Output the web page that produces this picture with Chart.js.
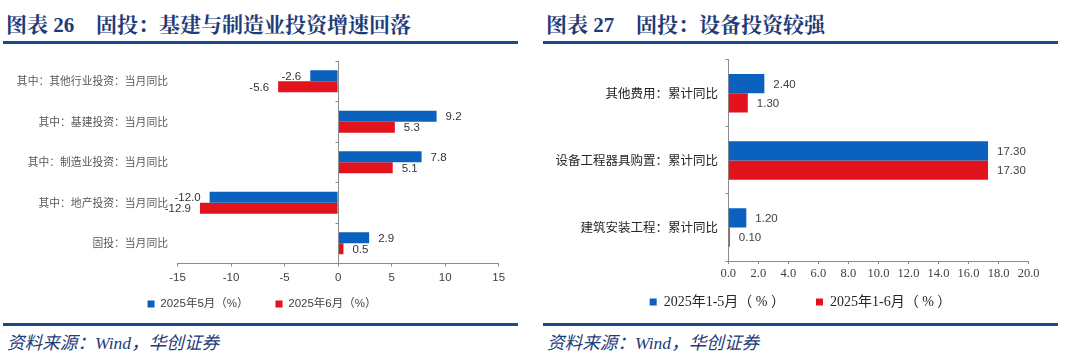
<!DOCTYPE html>
<html><head><meta charset="utf-8">
<script src="https://cdn.jsdelivr.net/npm/chart.js@4.4.1/dist/chart.umd.min.js"></script>
<style>
html,body{margin:0;padding:0;background:#fff;}
#wrap{position:relative;width:1080px;height:361px;overflow:hidden;background:#fff;}
.title{position:absolute;top:13px;height:24px;line-height:24px;font-family:"Liberation Serif","Noto Serif CJK SC","Noto Sans CJK SC",serif;font-weight:bold;font-size:21px;color:#1F3C78;white-space:nowrap;}
.rule{position:absolute;height:3px;background:#1B4A8A;}
.src{position:absolute;top:332px;height:22px;line-height:22px;font-family:"Liberation Serif","Noto Sans CJK SC",serif;font-style:italic;font-size:17.6px;color:#1F3C78;white-space:nowrap;}
canvas{position:absolute;}
</style></head>
<body>
<div id="wrap">
  <div class="title" style="left:6px">图表 26</div>
  <div class="title" style="left:96px">固投：基建与制造业投资增速回落</div>
  <div class="rule" style="left:3px;width:515px;top:41px"></div>
  <div class="title" style="left:546px">图表 27</div>
  <div class="title" style="left:636px">固投：设备投资较强</div>
  <div class="rule" style="left:543px;width:515px;top:41px"></div>
  <div class="rule" style="left:3px;width:515px;top:323px"></div>
  <div class="rule" style="left:543px;width:515px;top:323px"></div>
  <div class="src" style="left:7px">资料来源：Wind，华创证券</div>
  <div class="src" style="left:547px">资料来源：Wind，华创证券</div>
  <canvas id="c1" width="540" height="293" style="left:0;top:45px"></canvas>
  <canvas id="c2" width="540" height="293" style="left:540px;top:45px"></canvas>
</div>
<script>
// ---- Data ----
const leftCategories = ['其中：其他行业投资：当月同比', '其中：基建投资：当月同比', '其中：制造业投资：当月同比', '其中：地产投资：当月同比', '固投：当月同比'];
const leftMay = [-2.6, 9.2, 7.8, -12.0, 2.9];
const leftJun = [-5.6, 5.3, 5.1, -12.9, 0.5];
const leftSeriesNames = ['2025年5月（%）', '2025年6月（%）'];
const leftXTicks = [-15, -10, -5, 0, 5, 10, 15];

const rightCategories = ['其他费用：累计同比', '设备工程器具购置：累计同比', '建筑安装工程：累计同比'];
const rightJanMay = [2.40, 17.30, 1.20];
const rightJanJun = [1.30, 17.30, 0.10];
const rightSeriesNames = ['2025年1-5月（ % ）', '2025年1-6月（ % ）'];
const rightXTicks = [0, 2, 4, 6, 8, 10, 12, 14, 16, 18, 20];

const BLUE = '#0B61BE', RED = '#E3131D', AXIS = '#8C8C8C';
const SANS = '"Liberation Sans", Arial, "Noto Sans CJK SC", sans-serif';
const SERIF = '"Liberation Serif", "Noto Sans CJK SC", serif';

function labelPlugin(decimals, font, color) {
  return {
    id: 'valueLabels' + decimals,
    afterDatasetsDraw(chart) {
      const ctx = chart.ctx;
      ctx.save();
      ctx.font = font;
      ctx.fillStyle = color;
      ctx.textBaseline = 'middle';
      chart.data.datasets.forEach((ds, di) => {
        const meta = chart.getDatasetMeta(di);
        meta.data.forEach((el, i) => {
          const v = ds.data[i];
          const txt = v.toFixed(decimals);
          if (v >= 0) { ctx.textAlign = 'left'; ctx.fillText(txt, el.x + 9, el.y + 1); }
          else { ctx.textAlign = 'right'; ctx.fillText(txt, el.x - 9, el.y + 1); }
        });
      });
      ctx.restore();
    }
  };
}

// place the legend row at a given centre (canvas coordinates)
function legendPlace(cx, cy) {
  return {
    id: 'legendPlace',
    afterLayout(chart) {
      const lg = chart.legend;
      if (!lg) return;
      const w = lg.right - lg.left;
      const pad = lg.options.labels.padding;
      const fs = lg.options.labels.font.size;
      lg.left = cx - w / 2; lg.right = cx + w / 2;
      const h = lg.bottom - lg.top;
      lg.top = cy - pad - fs / 2; lg.bottom = lg.top + h;
    }
  };
}

const zeroAxisPlugin = {
  id: 'zeroAxis',
  afterDatasetsDraw(chart) {
    const xs = chart.scales.x, ys = chart.scales.y, ctx = chart.ctx;
    const x0 = Math.round(xs.getPixelForValue(0)) + 0.5;
    ctx.save();
    ctx.strokeStyle = AXIS; ctx.lineWidth = 1;
    ctx.beginPath();
    ctx.moveTo(x0, chart.chartArea.top); ctx.lineTo(x0, chart.chartArea.bottom);
    for (let i = 0; i <= leftCategories.length; i++) {
      const y = Math.round(ys.getPixelForValue(i - 0.5)) + 0.5;
      ctx.moveTo(x0 - 3, y); ctx.lineTo(x0, y);
    }
    ctx.stroke();
    ctx.restore();
  }
};

Chart.defaults.animation = false;
Chart.defaults.devicePixelRatio = 1;

new Chart(document.getElementById('c1'), {
  type: 'bar',
  data: {
    labels: leftCategories,
    datasets: [
      { label: leftSeriesNames[0], data: leftMay, backgroundColor: BLUE },
      { label: leftSeriesNames[1], data: leftJun, backgroundColor: RED }
    ]
  },
  options: {
    indexAxis: 'y', responsive: false,
    layout: { padding: { left: 0, right: 41.3, top: 9, bottom: 0 } },
    datasets: { bar: { categoryPercentage: 0.545, barPercentage: 1.0 } },
    plugins: {
      legend: {
        position: 'bottom',
        labels: { boxWidth: 7, boxHeight: 7, padding: 27, color: '#404040', font: { family: SANS, size: 11.5 } }
      },
      tooltip: { enabled: false }
    },
    scales: {
      x: {
        min: -15, max: 15,
        afterBuildTicks(s) { s.ticks = leftXTicks.map(v => ({ value: v })); },
        afterFit(s) { s.height = 26; },
        grid: { drawOnChartArea: false, drawTicks: true, tickLength: 3, color: AXIS },
        border: { display: true, color: AXIS },
        ticks: { padding: 4, color: '#404040', font: { family: SANS, size: 11.5 }, maxRotation: 0, autoSkip: false }
      },
      y: {
        afterFit(s) { s.width = 177.5; },
        grid: { display: false, drawTicks: false },
        border: { display: false },
        ticks: { padding: 9.5, color: '#595959', font: { family: '"Noto Sans CJK SC", sans-serif', size: 10.8 } }
      }
    }
  },
  plugins: [zeroAxisPlugin, labelPlugin(1, '11.5px ' + SANS, '#333333'), legendPlace(262, 259)]
});

new Chart(document.getElementById('c2'), {
  type: 'bar',
  data: {
    labels: rightCategories,
    datasets: [
      { label: rightSeriesNames[0], data: rightJanMay, backgroundColor: BLUE },
      { label: rightSeriesNames[1], data: rightJanJun, backgroundColor: RED }
    ]
  },
  options: {
    indexAxis: 'y', responsive: false,
    layout: { padding: { left: 0, right: 51.4, top: 7.3, bottom: 0 } },
    datasets: { bar: { categoryPercentage: 0.574, barPercentage: 1.0 } },
    plugins: {
      legend: {
        position: 'bottom',
        labels: { boxWidth: 7, boxHeight: 7, padding: 31, color: '#262626', font: { family: SERIF, size: 14 } }
      },
      tooltip: { enabled: false }
    },
    scales: {
      x: {
        min: 0, max: 20,
        afterBuildTicks(s) { s.ticks = rightXTicks.map(v => ({ value: v })); },
        afterFit(s) { s.height = 22; },
        grid: { drawOnChartArea: false, drawTicks: true, tickLength: 3, color: AXIS },
        border: { display: true, color: AXIS },
        ticks: { padding: 2.2, color: '#404040', font: { family: SERIF, size: 12.5 }, maxRotation: 0, autoSkip: false,
                 callback: v => Number(v).toFixed(1) }
      },
      y: {
        afterFit(s) { s.width = 188.3; },
        grid: { drawOnChartArea: false, drawTicks: true, tickLength: 3, color: AXIS, offset: true },
        border: { display: true, color: AXIS },
        ticks: { padding: 7.3, color: '#262626', font: { family: '"Noto Sans CJK SC", sans-serif', size: 12.5 } }
      }
    }
  },
  plugins: [labelPlugin(2, '11.5px ' + SANS, '#404040'), legendPlace(260.5, 257)]
});
</script>
</body></html>
